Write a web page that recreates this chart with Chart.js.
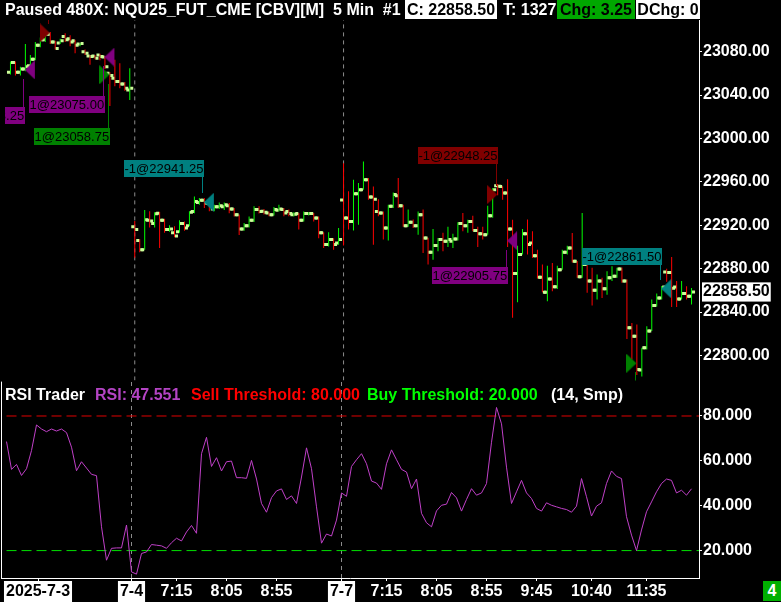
<!DOCTYPE html>
<html>
<head>
<meta charset="utf-8">
<title>NQU25 RSI Trader</title>
<script src="https://cdn.jsdelivr.net/npm/chart.js@4.4.1/dist/chart.umd.min.js"></script>
<style>
  html, body { margin:0; padding:0; background:#000; }
  #wrap { position:relative; width:781px; height:602px; background:#000; overflow:hidden;
          font-family:"Liberation Sans", Arial, sans-serif; font-weight:bold; font-size:16px; }
  #wrap canvas { position:absolute; left:0; }
  .t { position:absolute; white-space:pre; line-height:19px; height:19px; color:#fff; }
  .bx { text-align:center; }
</style>
</head>
<body>
<div id="wrap">
  <canvas id="priceCanvas" width="781" height="391" style="top:0px;width:781px;height:391px"></canvas>
  <canvas id="rsiCanvas" width="781" height="231" style="top:371px;width:781px;height:231px"></canvas>

  <div class="t" style="left:5px;top:0px">Paused 480X: NQU25_FUT_CME [CBV][M]  5 Min  #1</div>
  <div class="t bx" style="left:405px;top:0px;width:92px;background:#fff;color:#000">C: 22858.50</div>
  <div class="t" style="left:503px;top:0px">T: 1327</div>
  <div class="t bx" style="left:557px;top:0px;width:78px;background:#00a800;color:#000">Chg: 3.25</div>
  <div class="t bx" style="left:636px;top:0px;width:64px;background:#fff;color:#000">DChg: 0</div>

  <div class="t" style="left:5px;top:385px">RSI Trader</div>
  <div class="t" style="left:95px;top:385px;color:#b444c4">RSI: 47.551</div>
  <div class="t" style="left:191px;top:385px;color:#ff0000">Sell Threshold: 80.000</div>
  <div class="t" style="left:367px;top:385px;color:#00ff00">Buy Threshold: 20.000</div>
  <div class="t" style="left:551px;top:385px">(14, Smp)</div>

  <div class="t bx" style="left:763px;top:581px;width:18px;height:20px;line-height:20px;background:#00b000;color:#fff">4</div>
</div>

<script>
// ---------------- data (5-minute bars, oldest first) ----------------
const barOpen = [
  23061,23070,23061,23064,23067,23073,23086,23091,23096,23089,
  23088,23094,23092,23090,23087,23080,23076,23076,23077,23075,
  23060,23055.5,23052.5,23050.25,23044.75,
  22918.5,22906,22897.5,22924.5,22921.5,22931,22924.5,22916,22913,22914,
  22921.5,22919.5,22932.75,22941,22943,22940,22935,22937,22937,22938,
  22935,22929.75,22916.5,22919.5,22924.5,22934.5,22933,22931.25,22929.75,22933.75,
  22934.5,22932.75,22929.75,22930.75,22924.5,22930.75,22930.75,22926.75,22913,22902.25,
  22906.75,22903.75,
  22943.25,22926.75,22923.5,22949,22952.75,22962,22946,22932.75,22931.25,22917.5,
  22937.5,22947.25,22938,22919.5,22922.75,22919.5,22929.75,22908.25,22895,22901.25,
  22906.75,22905.25,22905.25,22907.25,22921.5,22919.5,22923.5,22915.25,22912.25,22911.25,
  22928.75,22956.5,22955.75,22949.75,22916.5,22875.5,22893,22912.25,22903.75,22892,
  22872,22858.25,22870.5,22863.25,22879,22895,22899,22886.75,22872.5,22883.75,
  22868.5,22860,22868.5,22861.5,22871.5,22873,22879.75,22868.5,22825.5,22817.75,
  22786.5,22807,22822.5,22846,22853,22877,22876.5,22863,22852,22857,22854.5
];
const barHigh = [
  23071,23071,23066,23087,23077,23089,23093,23098,23098,23090,
  23092,23097,23095,23091,23088,23082,23077,23077,23078,23076,
  23061,23072.5,23069.25,23052,23064.75,
  22924,22907,22934,22933,22932,22932.5,22926,22920,22919,22924.5,
  22923.5,22933,22946.5,22945,22945,22941,22939,22941,22941,22940.5,
  22936,22930,22922,22928,22937.5,22937.5,22935,22932.75,22936.75,22939,
  22936,22934.5,22932,22931.25,22932.75,22932,22931.25,22928,22913.5,22913.5,
  22908,22917.5,
  22977.25,22951.25,22962,22959,22978.75,22963.5,22955.75,22944,22932.75,22939,
  22950.25,22963.5,22939,22934.5,22925.25,22932.75,22934.5,22908.5,22916.5,22908.25,
  22913,22918.5,22912.25,22922.75,22931.25,22925,22928.75,22918.5,22918.5,22938,
  22954.25,22958,22956,22962.5,22925,22901,22916.5,22925.25,22914.5,22897.5,
  22883.75,22882.75,22885.25,22882.75,22897.5,22901,22912.75,22887,22931.25,22885.25,
  22880.75,22874.5,22871.5,22877.5,22882.25,22880.75,22881,22870,22830,22828.5,
  22807,22827,22851.5,22857,22864,22880,22890.75,22868.5,22868.5,22863.75,22862.25
];
const barLow = [
  23059,23058,23058,23062,23066,23072,23084,23089,23087,23082,
  23087,23089,23085,23078.5,23085,23077,23068,23073,23072,23064,
  23030,23048,23046.25,23044,23035.5,
  22890,22895,22897.5,22918,22918,22899,22913,22914,22909,22913,
  22915,22919,22931,22939,22936,22933,22933,22935,22934,22931,
  22928,22911,22915,22918,22923,22930.75,22930,22928.25,22929,22932.75,
  22928.25,22928.25,22928,22916,22923.5,22929,22923.5,22908,22899,22900.5,
  22897.5,22902,
  22901.25,22916,22915.25,22920.5,22952.75,22943.5,22902,22928.25,22906.75,22906,
  22936,22936,22918.5,22918.5,22917.5,22911.25,22894.5,22883.75,22888.25,22896,
  22896,22900,22899,22906,22914.5,22913,22914.5,22900,22906.75,22911.25,
  22927,22947.75,22943.5,22900,22834.75,22849,22893,22893,22889.75,22871,
  22858.25,22850,22859.25,22861.25,22879,22893,22885.75,22871.5,22871.5,22857.75,
  22846,22851.5,22853,22856,22868.5,22871.5,22867,22815.25,22796.25,22782,
  22780.5,22805.5,22822.5,22845,22851.5,22868,22844.75,22844.75,22851.5,22851.5,22847
];
const barClose = [
  23070,23061,23064,23066,23073,23086,23091,23096,23089,23083,
  23090,23091,23089,23086,23087.5,23078.5,23075.5,23074,23075.5,23066,
  23058,23052.5,23050.25,23046.25,23046.25,
  22916,22897.5,22925,22924,22930.5,22924.5,22916,22916.5,22910,22921.5,
  22917.5,22932,22942,22943,22940.5,22938,22937,22938,22939,22935,
  22929.75,22916.5,22919.5,22924.5,22934.5,22932.75,22932,22929.75,22934.5,22935,
  22931.25,22930.75,22930.25,22924.5,22930.75,22930.75,22926.75,22913,22902.25,22906.75,
  22902.25,22906.75,
  22926.75,22923.5,22949,22952.75,22962,22946,22944,22931.25,22917.5,22937.5,
  22948.25,22938,22919.5,22922.75,22919.5,22929.75,22908.25,22895,22901.25,22906.75,
  22905.25,22906.75,22907.25,22921.5,22919.5,22923.5,22915.25,22912.25,22911.25,22928.75,
  22952.75,22956,22949.75,22916.5,22875.5,22893,22912.25,22902.25,22892,22872,
  22858.25,22870.5,22863.25,22879,22895,22899,22886.75,22872.5,22883.75,22868.5,
  22860,22868.5,22861.5,22871.5,22873,22879.75,22868.5,22825.5,22817.75,22787,
  22807,22822.5,22846,22853,22863,22876.5,22862,22852,22857,22854.5,22858.5
];
const rsiValues = [
  68.6,56.2,58.4,53.5,56.5,64.6,76,74.2,73,74.2,
  73.3,74.2,72.6,66.1,55.6,59.6,56.8,54,53.4,30.6,
  15.7,21,21.2,21.2,31.4,
  10.5,9.5,18.7,19.4,22.7,22.4,22.1,21,23.5,25.5,
  24.3,28.3,31.2,27.7,63.2,70.5,57.5,61.4,55.5,59.6,
  59.9,52.5,52.5,52.2,60.2,51.9,41,37.1,43.6,46.6,
  47.5,42.8,44.4,41,52.8,65.8,56.5,39.5,23.3,27.4,
  26.5,33.6,
  45.7,44.2,57.5,60.5,63.2,58.7,51,50.1,47.3,58.7,
  64.9,60.5,56.2,55,47.6,51.9,36.6,32.4,30.6,37.7,
  40.2,40.7,45.9,43.5,37.6,42.8,47.6,44.7,45.7,49.9,
  68.3,83.8,76.5,57.2,41,46.2,51.3,45.7,43.2,38.8,
  37.6,41.3,40.2,39.5,38.8,38.3,37.1,39.8,52.1,44,
  35.4,39.8,41.3,49.9,55.5,53.1,52.1,35.1,26.9,20,
  29.2,37.3,41.7,46.2,49.9,51.9,51.3,45.7,46.9,44.7,47.55
];

// time axis (bar index -> label)
const timeTickBars   = [6.3, 25, 34, 44, 54, 67, 76, 86, 96, 106, 117, 128];
const timeTickLabels = ['2025-7-3','7-4','7:15','8:05','8:55','7-7','7:15','8:05','8:55','9:45','10:40','11:35'];
const sessionStartBars = [25, 67];

// value axes
const priceTicks = [22800, 22840, 22880, 22920, 22960, 23000, 23040, 23080];
const lastPrice = 22858.50;
const rsiTicks = [20, 40, 60, 80];
const sellThreshold = 80;
const buyThreshold = 20;

// trades
const tradeBar   = [3, 8, 19, 20, 39, 98, 100, 126, 131];
const tradePrice = [23063.25, 23097.25, 23075.00, 23058.75, 22941.25, 22948.25, 22905.75, 22792.75, 22861.50];
const tradeQty   = [1, -1, 1, 1, -1, -1, 1, 1, -1];
const tradeKind  = ['cover','short','cover','long','exit','short','cover','long','exit'];

// ---------------- view & style ----------------
const X_MIN = -1.1, X_MAX = 138.5;
const PRICE_MIN = 22777.0, PRICE_MAX = 23109.17;
const RSI_MIN = 7.778, RSI_MAX = 95.333;
const FONT = '"Liberation Sans", Arial, sans-serif';
const UP = '#00ff00', DOWN = '#ff0000', OC_TICK = '#ccff99';
const RSI_COLOR = '#c040c8';
const SESSION_COLOR = '#8c8c8c';
const kindStyle = {
  short: { color: '#800000', dir: 1 },
  cover: { color: '#800080', dir: -1 },
  long:  { color: '#008000', dir: 1 },
  exit:  { color: '#008080', dir: -1 }
};
const labelGap = [36, 21, 27, 22, 21, 20, 20, 20, 21];

Chart.defaults.font.family = FONT;

function triangle(color, dir) {
  const c = document.createElement('canvas');
  c.width = 11; c.height = 19;
  const g = c.getContext('2d');
  g.fillStyle = color;
  g.beginPath();
  if (dir > 0) { g.moveTo(0, 0); g.lineTo(10, 9.5); g.lineTo(0, 19); }
  else { g.moveTo(10, 0); g.lineTo(0, 9.5); g.lineTo(10, 19); }
  g.closePath(); g.fill();
  return c;
}
const triImg = {};
Object.keys(kindStyle).forEach(k => { triImg[k] = triangle(kindStyle[k].color, kindStyle[k].dir); });

const idx = barOpen.map((_, i) => i);
const isDateTick = timeTickLabels.map(l => l.includes('-'));

const tradeLabelPlugin = {
  id: 'tradeLabels',
  afterDatasetsDraw(chart) {
    const { ctx, chartArea: a, scales } = chart;
    const xs = scales.x, ys = scales.y;
    ctx.save();
    ctx.beginPath();
    ctx.rect(a.left, a.top, a.right - a.left, a.bottom - a.top);
    ctx.clip();
    ctx.font = '13px ' + FONT;
    ctx.textBaseline = 'middle';
    ctx.textAlign = 'left';
    tradeBar.forEach((b, k) => {
      const col = kindStyle[tradeKind[k]].color;
      const px = Math.round(xs.getPixelForValue(b));
      const ty = ys.getPixelForValue(tradePrice[k]);
      const text = tradeQty[k] + '@' + tradePrice[k].toFixed(2);
      const w = Math.ceil(ctx.measureText(text).width) + 1;
      const h = 17;
      let top, y1, y2;
      if (tradeQty[k] < 0) {
        const bottom = Math.round(ys.getPixelForValue(barHigh[b]) - labelGap[k]);
        top = bottom - h; y1 = bottom; y2 = Math.round(ty - 9);
      } else {
        top = Math.round(ys.getPixelForValue(barLow[b]) + labelGap[k]);
        y1 = Math.round(ty + 9); y2 = top;
      }
      ctx.fillStyle = col;
      ctx.fillRect(px - 2, Math.min(y1, y2), 1, Math.abs(y2 - y1));
      ctx.fillRect(px - w, top, w, h);
      ctx.fillStyle = '#000';
      ctx.fillText(text, px - w + 0.5, top + h / 2 + 0.5);
    });
    ctx.restore();
  }
};

const frameLeftPlugin = {
  id: 'frameLeft',
  afterDraw(chart) {
    const { ctx, chartArea: a } = chart;
    ctx.save();
    ctx.fillStyle = '#fff';
    ctx.fillRect(a.left, a.top, 1, a.bottom - a.top + 1);
    ctx.restore();
  }
};

const common = {
  animation: false, responsive: false, devicePixelRatio: 1, events: [],
  plugins: { legend: { display: false }, tooltip: { enabled: false } }
};

function valueAxis(min, max, tickList, decimals, highlight) {
  return {
    type: 'linear', position: 'right', min: min, max: max,
    afterFit: s => { s.width = 82; },
    afterBuildTicks: s => { s.ticks = tickList.slice().sort((a, b) => a - b).map(v => ({ value: v })); },
    ticks: {
      autoSkip: false, padding: 1,
      font: { family: FONT, size: 16, weight: 'bold' },
      color: c => (highlight !== null && c.tick && c.tick.value === highlight) ? '#000' : '#fff',
      callback: v => Number(v).toFixed(decimals),
      showLabelBackdrop: c => highlight !== null && !!c.tick && c.tick.value === highlight,
      backdropColor: '#fff',
      backdropPadding: { x: 1, y: 0 }
    },
    grid: {
      drawOnChartArea: false, drawTicks: true, tickLength: 3, color: '#fff',
      tickColor: c => (highlight !== null && c.tick && c.tick.value === highlight) ? 'rgba(0,0,0,0)' : '#fff'
    },
    border: { display: true, color: '#fff', width: 1 }
  };
}

// ---------------- price panel ----------------
new Chart(document.getElementById('priceCanvas'), {
  type: 'scatter',
  data: {
    datasets: [
      {
        type: 'scatter', order: 0,
        data: tradeBar.map((b, k) => ({ x: b - kindStyle[tradeKind[k]].dir, y: tradePrice[k] })),
        pointStyle: tradeBar.map((b, k) => triImg[tradeKind[k]]),
        pointRadius: 5, borderWidth: 0
      },
      {
        type: 'scatter', order: 1,
        data: idx.map(i => ({ x: i - 0.4, y: barOpen[i] })),
        pointStyle: 'rect', pointRadius: 2.1213, backgroundColor: OC_TICK, borderWidth: 0
      },
      {
        type: 'scatter', order: 1,
        data: idx.map(i => ({ x: i + 0.4, y: barClose[i] })),
        pointStyle: 'rect', pointRadius: 2.1213, backgroundColor: OC_TICK, borderWidth: 0
      },
      {
        type: 'bar', order: 2,
        data: idx.map(i => ({ x: i, y: [barLow[i], barHigh[i]] })),
        backgroundColor: idx.map(i => barClose[i] >= barOpen[i] ? UP : DOWN),
        barThickness: 1, borderWidth: 0, inflateAmount: 0, grouped: false
      },
      ...sessionStartBars.map(s => ({
        type: 'line', order: 3,
        data: [{ x: s, y: PRICE_MIN }, { x: s, y: PRICE_MAX }],
        borderColor: SESSION_COLOR, borderWidth: 1, borderDash: [4, 4], pointRadius: 0, fill: false
      }))
    ]
  },
  options: Object.assign({}, common, {
    layout: { padding: { left: 1, top: 20, right: 0, bottom: 10 } },
    scales: {
      x: { type: 'linear', display: false, min: X_MIN, max: X_MAX, offset: false },
      y: valueAxis(PRICE_MIN, PRICE_MAX, priceTicks.concat([lastPrice]), 2, lastPrice)
    }
  }),
  plugins: [tradeLabelPlugin]
});

// ---------------- RSI panel ----------------
new Chart(document.getElementById('rsiCanvas'), {
  type: 'scatter',
  data: {
    datasets: [
      {
        type: 'line', order: 0,
        data: idx.map(i => ({ x: i, y: rsiValues[i] })),
        borderColor: RSI_COLOR, borderWidth: 1, pointRadius: 0, tension: 0, fill: false
      },
      {
        type: 'line', order: 1,
        data: [{ x: 0, y: sellThreshold }, { x: X_MAX, y: sellThreshold }],
        borderColor: '#e00000', borderWidth: 1, borderDash: [10, 5], pointRadius: 0, fill: false
      },
      {
        type: 'line', order: 1,
        data: [{ x: 0, y: buyThreshold }, { x: X_MAX, y: buyThreshold }],
        borderColor: '#00e000', borderWidth: 1, borderDash: [10, 5], pointRadius: 0, fill: false
      },
      ...sessionStartBars.map(s => ({
        type: 'line', order: 2,
        data: [{ x: s, y: RSI_MIN }, { x: s, y: RSI_MAX }],
        borderColor: SESSION_COLOR, borderWidth: 1, borderDash: [4, 4], pointRadius: 0, fill: false
      }))
    ]
  },
  options: Object.assign({}, common, {
    layout: { padding: { left: 1, top: 10, right: 0, bottom: 0 } },
    scales: {
      x: {
        type: 'linear', position: 'bottom', min: X_MIN, max: X_MAX, offset: false,
        afterFit: s => { s.height = 24; },
        afterBuildTicks: s => { s.ticks = timeTickBars.map(v => ({ value: v })); },
        ticks: {
          autoSkip: false, maxRotation: 0, minRotation: 0, padding: 1,
          font: { family: FONT, size: 16, weight: 'bold' },
          color: c => isDateTick[c.index] ? '#000' : '#fff',
          callback: (v, i) => timeTickLabels[i],
          showLabelBackdrop: c => !!isDateTick[c.index],
          backdropColor: '#fff',
          backdropPadding: { x: 2, y: 1 }
        },
        grid: { drawOnChartArea: false, drawTicks: true, tickLength: 3, color: '#fff', tickColor: '#fff', offset: false },
        border: { display: true, color: '#fff', width: 1 }
      },
      y: valueAxis(RSI_MIN, RSI_MAX, rsiTicks, 3, null)
    }
  }),
  plugins: [frameLeftPlugin]
});
</script>
</body>
</html>
